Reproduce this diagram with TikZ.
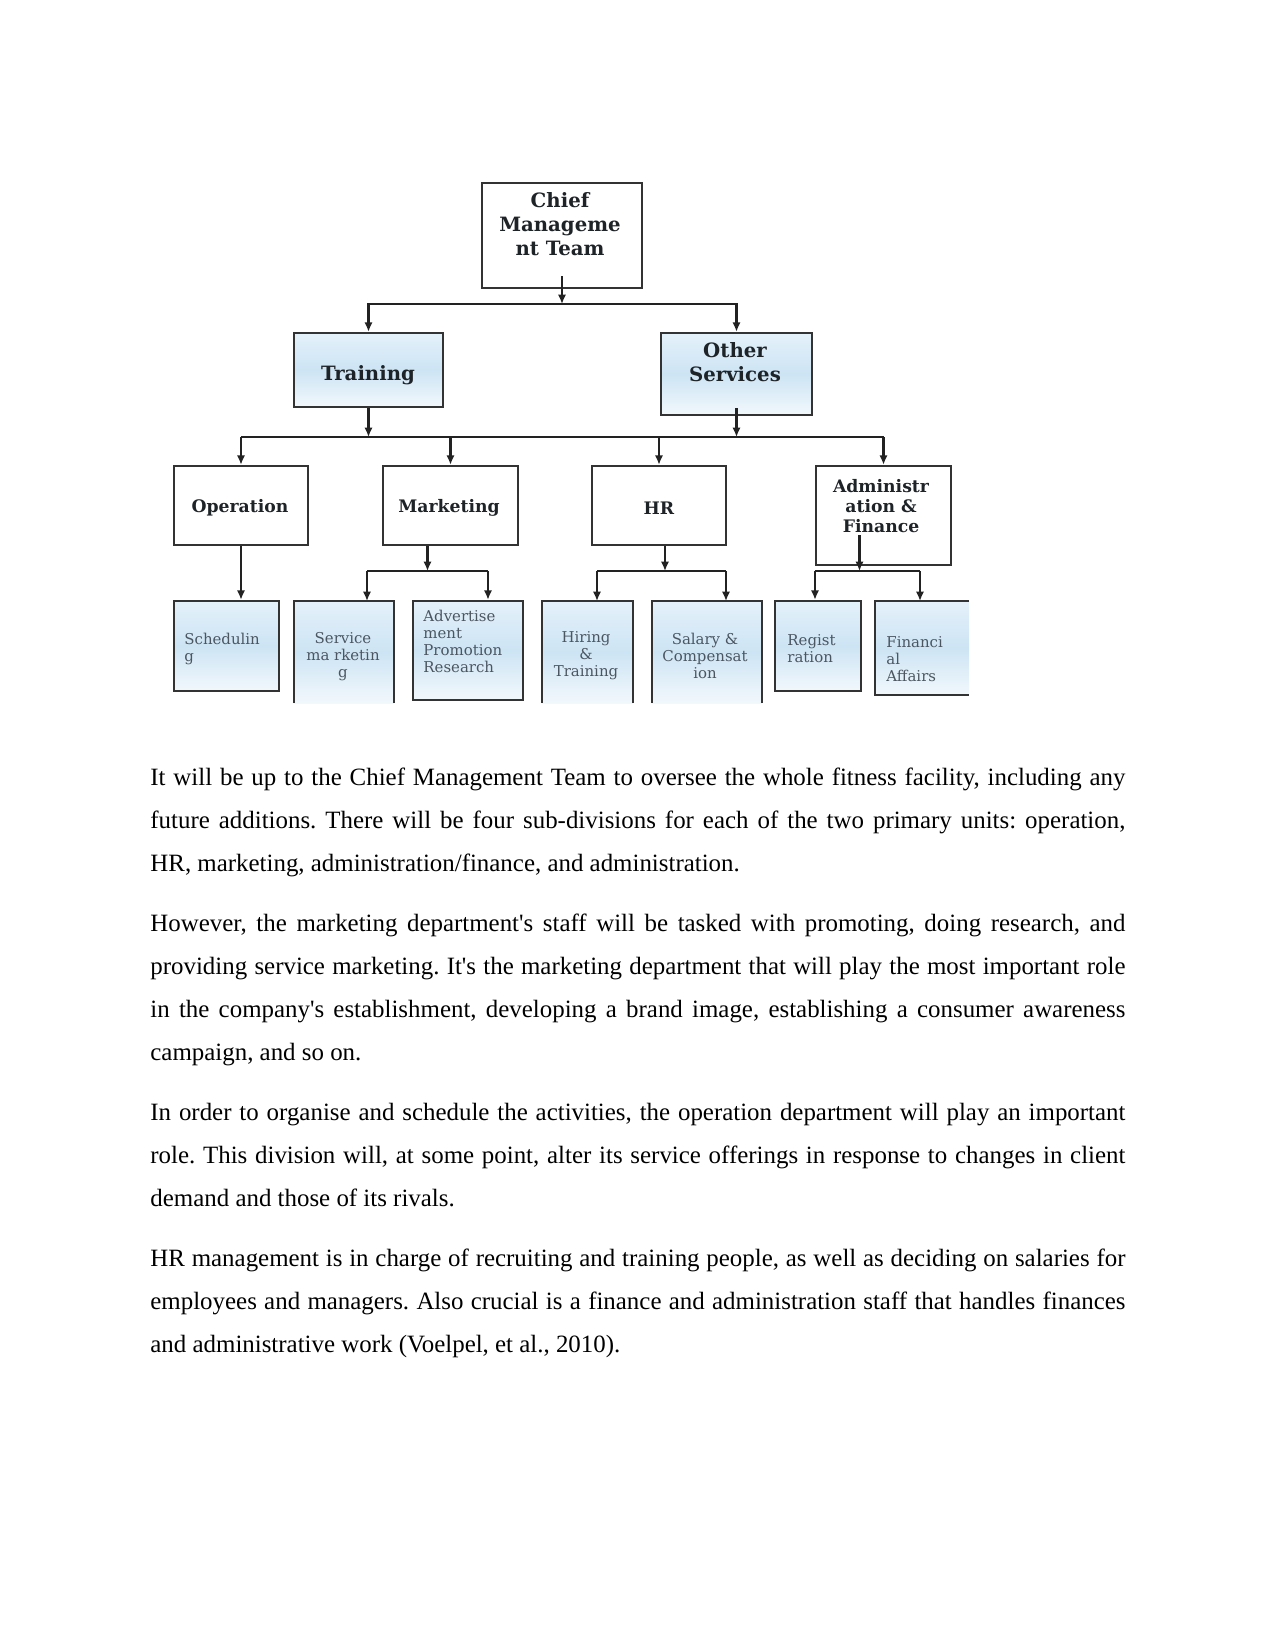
\documentclass[tikz,border=0pt]{standalone}
\usepackage{fontspec}
\setmainfont{Liberation Serif}
\newfontfamily\dvs{DejaVu Serif}
\usetikzlibrary{arrows.meta,calc,fit}
\definecolor{bdr}{HTML}{333333}
\definecolor{lnc}{HTML}{222222}
\definecolor{bt}{HTML}{E4F1FA}
\definecolor{bm}{HTML}{CDE4F4}
\definecolor{bb}{HTML}{F2F8FC}
\definecolor{lbl}{HTML}{1E2328}
\definecolor{subc}{HTML}{4B5661}
\newcommand\q{\textquotesingle}
\frenchspacing
\begin{document}
\begin{tikzpicture}[x=0.169333mm,y=-0.169333mm,
 wbox/.style={draw=bdr,line width=1.2pt,fill=white,inner sep=0pt},
 bbox/.style={draw=bdr,line width=1.2pt,top color=bt,bottom color=bb,middle color=bm,inner sep=0pt},
 obox/.style={top color=bt,bottom color=bb,middle color=bm,inner sep=0pt,outer sep=0pt},
 side/.style={draw=bdr,line width=1.1pt},
 conn/.style={draw=lnc,line width=1pt},
 arr/.style={conn,-{Latex[length=4.5pt,width=4pt]}},
 t1/.style={font=\dvs\bfseries\fontsize{9.5}{11.5}\selectfont,text=lbl,align=center,inner sep=0pt},
 t2/.style={font=\dvs\bfseries\fontsize{8.3}{9.6}\selectfont,text=lbl,align=center,inner sep=0pt},
 t3/.style={font=\dvs\fontsize{7.2}{8.2}\selectfont,text=subc,inner sep=0pt},
 body/.style={font=\frenchspacing\fontsize{12}{20.64}\selectfont,anchor=base west,inner sep=0pt}]
\fill[white] (0,0) rectangle (1275,1651);
\useasboundingbox (0,0) rectangle (1275,1651);

% level 0 and 1
\node[wbox,fit={(482,183)(642,288)}] (chief) {};
\node[t1] (tchief) at (560,224) {Chief\\Manageme\\nt Team};
\node[bbox,fit={(294,333)(443,407)}] (train) {};
\node[t1] (ttrain) at (368,375) {Training};
\node[bbox,fit={(661,333)(812,415)}] (other) {};
\node[t1] (tother) at (735,362) {Other\\Services};

% level 2
\node[wbox,fit={(174,466)(308,545)}] (op) {};
\node[t2] (top) at (240,508) {Operation};
\node[wbox,fit={(383,466)(518,545)}] (mkt) {};
\node[t2] (tmkt) at (449,508) {Marketing};
\node[wbox,fit={(592,466)(726,545)}] (hr) {};
\node[t2] (thr) at (659,508) {HR};
\node[wbox,fit={(816,466)(951,565)}] (adm) {};
\node[t2] (tadm) at (881,506) {Administr\\ation \&\\Finance};

% level 3
\node[bbox,fit={(174,601)(279,691)}] (sch) {};
\node[t3,anchor=west,align=left] (tsch) at (184,649) {Schedulin\\g};
\node[obox,fit={(294,601)(394,703)}] (sm) {};
\draw[side] (sm.south west) -- (sm.north west) -- (sm.north east) -- (sm.south east);
\node[t3,align=center] (tsm) at (343,657) {Service\\ma rketin\\g};
\node[bbox,fit={(413,601)(523,700)}] (adv) {};
\node[t3,anchor=west,align=left] (tadv) at (423,641) {Advertise\\ment\\Promotion\\Research};
\node[obox,fit={(542,601)(633,703)}] (hir) {};
\draw[side] (hir.south west) -- (hir.north west) -- (hir.north east) -- (hir.south east);
\node[t3,align=center] (thir) at (586,656) {Hiring\\\&\\Training};
\node[obox,fit={(652,601)(762,703)}] (sal) {};
\draw[side] (sal.south west) -- (sal.north west) -- (sal.north east) -- (sal.south east);
\node[t3,align=center] (tsal) at (705,656) {Salary \&\\Compensat\\ion};
\node[bbox,fit={(775,601)(861,691)}] (reg) {};
\node[t3,anchor=west,align=left] (treg) at (787,649) {Regist\\ration};
\node[obox,fit={(875,601)(969,695)}] (fin) {};
\draw[side] (fin.north east) -- (fin.north west) -- (fin.south west) -- (fin.south east);
\node[t3,anchor=west,align=left] (tfin) at (886,659) {Financi\\al\\Affairs};

% connectors level 0 -> 1
\coordinate (b1) at (562,304);
\draw[arr] ($(chief.south)+(0,-13)$) -- (b1);
\draw[arr] (b1) -| (train.north);
\draw[arr] (b1) -| (other.north);

% level 1 -> 2
\coordinate (b2) at (0,437);
\draw[arr] (train.south) -- (train.south |- b2);
\draw[arr] ($(other.south)+(0,-8)$) -- (other.south |- b2);
\draw[conn] (op.north |- b2) -- (adm.north |- b2);
\draw[arr] (op.north |- b2) -- (op.north);
\draw[arr] (mkt.north |- b2) -- (mkt.north);
\draw[arr] (hr.north |- b2) -- (hr.north);
\draw[arr] (adm.north |- b2) -- (adm.north);

% level 2 -> 3
\coordinate (b3) at (0,571);
\draw[arr] (op.south) -- (op.south |- sch.north);

\coordinate (mk) at ($(mkt.south)+(-23,0)$);
\coordinate (mL) at (367,571);
\coordinate (mR) at (488,571);
\draw[arr] (mk) -- (mk |- b3);
\draw[conn] (mL) -- (mR);
\draw[arr] (mL) -- (mL |- sm.north);
\draw[arr] (mR) -- (mR |- adv.north);

\coordinate (hk) at ($(hr.south)+(6,0)$);
\coordinate (hL) at (597,571);
\coordinate (hR) at (726,571);
\draw[arr] (hk) -- (hk |- b3);
\draw[conn] (hL) -- (hR);
\draw[arr] (hL) -- (hL |- hir.north);
\draw[arr] (hR) -- (hR |- sal.north);

\coordinate (ak) at ($(adm.south)+(-24,-31)$);
\coordinate (aL) at (815,571);
\coordinate (aR) at (920,571);
\draw[arr] (ak) -- (ak |- b3);
\draw[conn] (aL) -- (aR);
\draw[arr] (aL) -- (aL |- reg.north);
\draw[arr] (aR) -- (aR |- fin.north);

% body text
\node[body] (p1a) at (150,785) {\makebox[6.5in][s]{It will be up to the Chief Management Team to oversee the whole fitness facility, including any}};
\node[body] (p1b) at (150,828) {\makebox[6.5in][s]{future additions. There will be four sub-divisions for each of the two primary units: operation,}};
\node[body] (p1c) at (150,871) {HR, marketing, administration/finance, and administration.};

\node[body] (p2a) at (150,931) {\makebox[6.5in][s]{However, the marketing department\q s staff will be tasked with promoting, doing research, and}};
\node[body] (p2b) at (150,974) {\makebox[6.5in][s]{providing service marketing. It\q s the marketing department that will play the most important role}};
\node[body] (p2c) at (150,1017) {\makebox[6.5in][s]{in the company\q s establishment, developing a brand image, establishing a consumer awareness}};
\node[body] (p2d) at (150,1060) {campaign, and so on.};

\node[body] (p3a) at (150,1120) {\makebox[6.5in][s]{In order to organise and schedule the activities, the operation department will play an important}};
\node[body] (p3b) at (150,1163) {\makebox[6.5in][s]{role. This division will, at some point, alter its service offerings in response to changes in client}};
\node[body] (p3c) at (150,1206) {demand and those of its rivals.};

\node[body] (p4a) at (150,1266) {\makebox[6.5in][s]{HR management is in charge of recruiting and training people, as well as deciding on salaries for}};
\node[body] (p4b) at (150,1309) {\makebox[6.5in][s]{employees and managers. Also crucial is a finance and administration staff that handles finances}};
\node[body] (p4c) at (150,1352) {and administrative work (Voelpel, et al., 2010).};
\end{tikzpicture}
\end{document}
